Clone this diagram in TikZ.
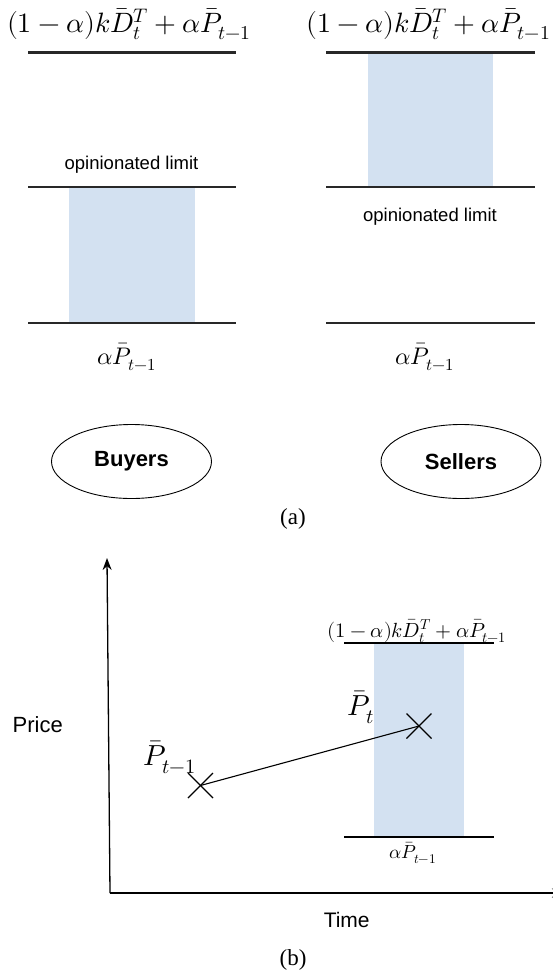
\documentclass[tikz,border=0pt]{standalone}
\usepackage{fontspec}
\setsansfont{Liberation Sans}
\setmainfont{Liberation Serif}
\usepackage{unicode-math}
\setmathfont{Latin Modern Math}
\usetikzlibrary{shapes.geometric,arrows.meta,calc}
\definecolor{bandblue}{RGB}{211,225,241}
\definecolor{linegray}{RGB}{40,40,40}
\tikzset{
  level/.style={draw=linegray,line width=2.2pt},
  levelb/.style={draw=black,line width=1.2pt},
  band/.style={fill=bandblue,draw=none},
  bigmath/.style={inner sep=0pt,font=\fontsize{28}{32}\selectfont},
  lowmath/.style={inner sep=0pt,font=\fontsize{24}{28}\selectfont},
  midmath/.style={inner sep=0pt,font=\fontsize{20.5}{24}\selectfont},
  smallmath/.style={inner sep=0pt,font=\fontsize{19}{22}\selectfont},
  ptmath/.style={inner sep=0pt,font=\fontsize{29}{33}\selectfont},
  lbl/.style={inner sep=0pt,font=\sffamily\fontsize{18.5}{22}\selectfont},
  axislbl/.style={inner sep=0pt,font=\sffamily\fontsize{22}{26}\selectfont},
  agent/.style={ellipse,draw,line width=0.9pt,minimum width=160pt,minimum height=74pt,inner sep=0pt,font=\sffamily\bfseries\fontsize{22}{26}\selectfont},
  caption/.style={inner sep=0pt,font=\rmfamily\fontsize{23}{26}\selectfont},
  crossmark/.style={line width=1.1pt},
  axis/.style={line width=1.3pt,-{Stealth[length=12pt,width=9pt]}},
}
\begin{document}
\begin{tikzpicture}[x=1pt,y=-1pt]
\useasboundingbox (0,0) rectangle (553,978);
% ---- panel (a)
\fill[band] (68.5,187) rectangle (194.5,323);
\fill[band] (368,52) rectangle (493,187);
\draw[level] (28,52.5) -- (236,52.5);
\draw[level] (28,187) -- (236,187);
\draw[level] (28,323) -- (236,323);
\draw[level] (326,52.5) -- (535,52.5);
\draw[level] (326,187) -- (535,187);
\draw[level] (326,323) -- (535,323);
\node[bigmath] (fl) at (129,24) {$(1-\alpha)k\bar{D}_t^T+\alpha\bar{P}_{t-1}$};
\node[bigmath] (fr) at (428.5,24) {$(1-\alpha)k\bar{D}_t^T+\alpha\bar{P}_{t-1}$};
\node[lbl] (ol) at (131.5,165) {opinionated limit};
\node[lbl] (or) at (430,217) {opinionated limit};
\node[lowmath] (pl) at (127,357) {$\alpha\bar{P}_{t-1}$};
\node[lowmath] (pr) at (425,357) {$\alpha\bar{P}_{t-1}$};
\node[agent] (buy) at (131.5,461.5) {Buyers};
\node[agent] (sell) at (461,461.5) {Sellers};
\node[caption] (capa) at (293,519) {(a)};
% ---- panel (b)
\fill[band] (374,643) rectangle (464,837);
\draw[levelb] (344,643) -- (494,643);
\draw[levelb] (344,837) -- (494,837);
\coordinate (origin) at (110,893);
\coordinate (ytop) at (107,558);
\coordinate (xend) at (564,893);
\draw[axis] (origin) -- (ytop);
\draw[axis] (origin) -- (xend);
\node[midmath] (fb) at (417,631) {$(1-\alpha)k\bar{D}_t^T+\alpha\bar{P}_{t-1}$};
\node[smallmath] (pb) at (413,853) {$\alpha\bar{P}_{t-1}$};
\coordinate (c1) at (200.5,785.5);
\coordinate (c2) at (419,726);
\draw[crossmark] ($(c1)+(-12.5,-12.5)$) -- ($(c1)+(12.5,12.5)$);
\draw[crossmark] ($(c1)+(-12.5,12.5)$) -- ($(c1)+(12.5,-12.5)$);
\draw[crossmark] ($(c2)+(-12.5,-12.5)$) -- ($(c2)+(12.5,12.5)$);
\draw[crossmark] ($(c2)+(-12.5,12.5)$) -- ($(c2)+(12.5,-12.5)$);
\draw[line width=1.1pt] (c1) -- (c2);
\node[ptmath] (lp1) at (170,757) {$\bar{P}_{t-1}$};
\node[ptmath] (lp2) at (361,707) {$\bar{P}_{t}$};
\node[axislbl] (price) at (37.7,725) {Price};
\node[axislbl,font=\sffamily\fontsize{21}{25}\selectfont] (time) at (346.7,920) {Time};
\node[caption] (capb) at (293,960) {(b)};
\end{tikzpicture}
\end{document}
